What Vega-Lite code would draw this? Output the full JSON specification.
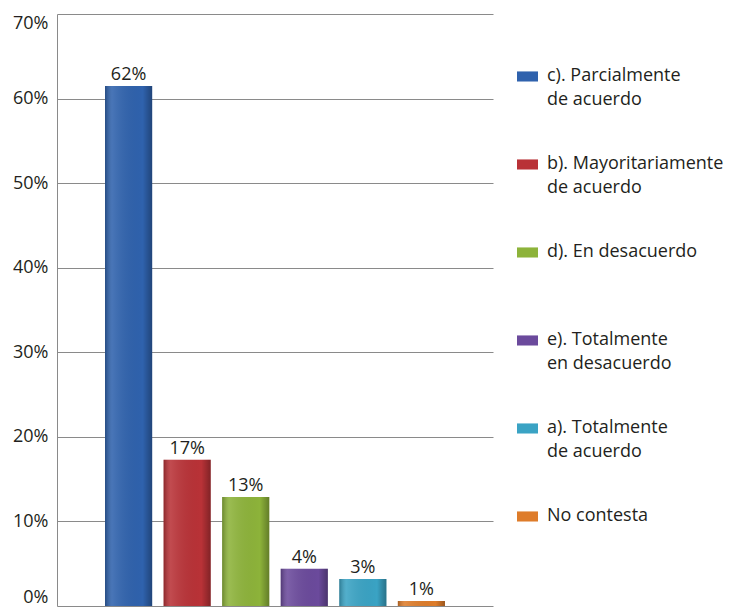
{
  "$schema": "https://vega.github.io/schema/vega-lite/v6.json",
  "width": 436,
  "height": 592,
  "autosize": {"type": "none"},
  "padding": {"left": 57, "top": 14, "right": 243, "bottom": 5},
  "background": "white",
  "config": {
    "view": {"stroke": null},
    "font": "Open Sans",
    "text": {"font": "Open Sans"},
    "style": {"guide-label": {"lineHeight": 24}}
  },
  "data": {
    "values": [
      {"cat": "c). Parcialmente|de acuerdo", "value": 61.5, "label": "62%"},
      {"cat": "b). Mayoritariamente|de acuerdo", "value": 17.3, "label": "17%"},
      {"cat": "d). En desacuerdo| ", "value": 12.9, "label": "13%"},
      {"cat": "e). Totalmente|en desacuerdo", "value": 4.4, "label": "4%"},
      {"cat": "a). Totalmente|de acuerdo", "value": 3.2, "label": "3%"},
      {"cat": "No contesta| ", "value": 0.6, "label": "1%"}
    ]
  },
  "encoding": {
    "x": {
      "field": "cat", "type": "nominal", "sort": null,
      "scale": {"paddingInner": 0.195, "paddingOuter": 0.82},
      "axis": null
    },
    "y": {
      "field": "value", "type": "quantitative",
      "scale": {"domain": [0, 70]},
      "axis": {
        "values": [0, 10, 20, 30, 40, 50, 60, 70],
        "labelExpr": "datum.value + '%'",
        "title": null,
        "ticks": false,
        "domainColor": "#8a8a8a",
        "gridColor": "#8a8a8a",
        "gridWidth": 1,
        "labelFontSize": 18,
        "labelColor": "#231f20",
        "labelPadding": 9,
        "labelFlush": true,
        "labelFont": "Open Sans"
      }
    }
  },
  "layer": [
    {
      "mark": {"type": "bar"},
      "encoding": {
        "color": {
          "field": "cat", "type": "nominal", "sort": null,
          "scale": {"range": ["#2f62ad", "#b93237", "#8db33a", "#6b4a9c", "#3aa3c4", "#de7c2a"]},
          "legend": {
            "title": null,
            "orient": "none",
            "legendX": 460,
            "legendY": 42,
            "padding": 0,
            "symbolType": "M-1,0.47H1V1.43H-1Z",
            "symbolSize": 441,
            "symbolStrokeWidth": 0,
            "symbolOpacity": 1,
            "labelOffset": 9,
            "labelFontSize": 18,
            "labelColor": "#231f20",
            "labelFont": "Open Sans",
            "labelExpr": "split(datum.label, '|')",
            "labelBaseline": "top",
            "labelLimit": 300,
            "rowPadding": 35
          }
        }
      }
    },
    {
      "mark": {
        "type": "bar",
        "fill": {
          "gradient": "linear", "x1": 0, "x2": 1, "y1": 0, "y2": 0,
          "stops": [
            {"offset": 0, "color": "rgba(0,0,0,0.25)"},
            {"offset": 0.15, "color": "rgba(255,255,255,0.12)"},
            {"offset": 0.8, "color": "rgba(0,0,0,0.0)"},
            {"offset": 1, "color": "rgba(0,0,0,0.3)"}
          ]
        }
      }
    },
    {
      "mark": {"type": "text", "baseline": "alphabetic", "dy": -6, "fontSize": 18, "color": "#231f20", "font": "Open Sans"},
      "encoding": {"text": {"field": "label"}}
    }
  ]
}
